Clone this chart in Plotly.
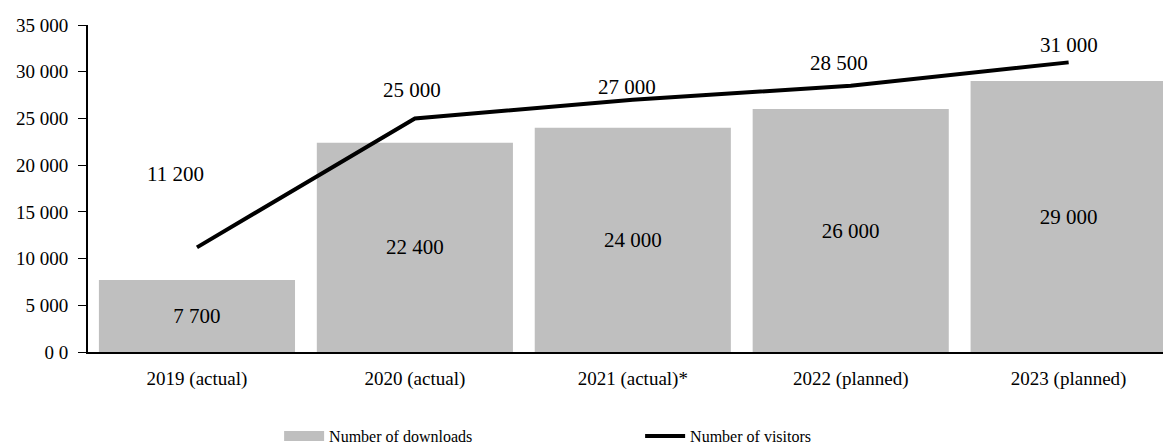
import plotly.graph_objects as go

categories = ["2019 (actual)", "2020 (actual)", "2021 (actual)*", "2022 (planned)", "2023 (planned)"]
downloads = [7700, 22400, 24000, 26000, 29000]
visitors = [11200, 25000, 27000, 28500, 31000]

y_tick_values = [0, 5000, 10000, 15000, 20000, 25000, 30000, 35000]
y_tick_labels = ["0 0", "5 000", "10 000", "15 000", "20 000", "25 000", "30 000", "35 000"]

# pixel nudges for the visitor value labels
visitor_label_dx = [-21, -3, -6, -12, 0]
visitor_label_dy = [73, 28, 13, 23, 17]

BAR_COLOR = "#bfbfbf"
SERIF = "Liberation Serif, Times New Roman, serif"


def fmt(v):
    return f"{v:,}".replace(",", " ")


def font(size):
    return dict(family=SERIF, size=size, color="#000000")


fig = go.Figure()
fig.add_trace(go.Bar(
    x=categories, y=downloads, name="Number of downloads", showlegend=False,
    marker=dict(color=BAR_COLOR, line=dict(width=0)),
    text=[fmt(v) for v in downloads], textposition="inside",
    insidetextanchor="middle", textangle=0,
    textfont=font(21), hoverinfo="skip",
))
# legend-only entry so the swatch is a wide grey band
fig.add_trace(go.Scatter(
    x=[None], y=[None], name="Number of downloads", mode="lines",
    line=dict(color=BAR_COLOR, width=11), hoverinfo="skip",
))
fig.add_trace(go.Scatter(
    x=categories, y=visitors, name="Number of visitors",
    mode="lines", line=dict(color="#000000", width=4),
    hoverinfo="skip",
))

for cat, v, dx, dy in zip(categories, visitors, visitor_label_dx, visitor_label_dy):
    fig.add_annotation(x=cat, y=v, text=fmt(v), showarrow=False,
                       xshift=dx, yshift=dy, font=font(21),
                       xanchor="center", yanchor="middle")

fig.update_layout(
    width=1163, height=446,
    margin=dict(l=88, r=0, t=25, b=94, autoexpand=False),
    paper_bgcolor="#ffffff", plot_bgcolor="#ffffff",
    font=font(16),
    bargap=0.1,
    showlegend=True,
    legend=dict(orientation="h", xref="container", x=0.240, xanchor="left",
                yref="container", y=0.0224, yanchor="middle",
                entrywidth=306, entrywidthmode="pixels",
                font=font(16), itemwidth=40, traceorder="normal",
                bgcolor="rgba(0,0,0,0)"),
    xaxis=dict(range=[-0.5, 4.433], showline=True, linecolor="#000000", linewidth=2,
               ticks="", showgrid=False, tickfont=font(19), zeroline=False,
               ticklabelstandoff=8),
    yaxis=dict(range=[0, 35000], tickvals=y_tick_values, ticktext=y_tick_labels,
               showline=True, linecolor="#000000", linewidth=2,
               ticks="outside", ticklen=8, tickcolor="#000000", tickwidth=1,
               showgrid=False, zeroline=False, tickfont=font(19),
               ticklabelstandoff=6),
)

fig.write_html("out.html")
